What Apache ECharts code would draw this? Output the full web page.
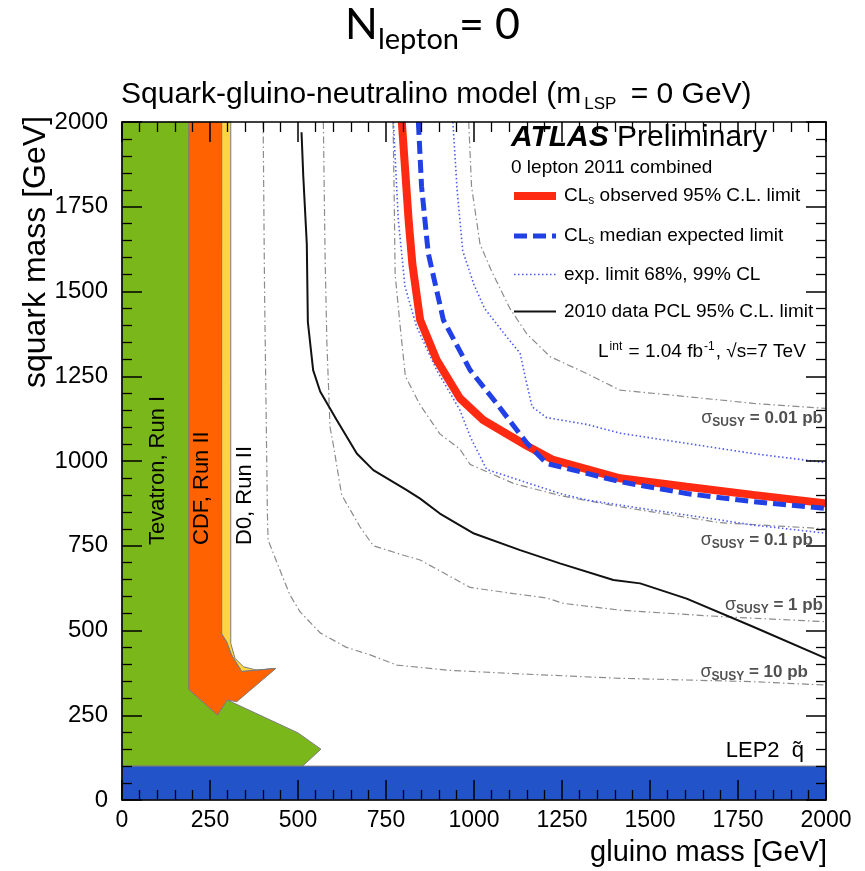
<!DOCTYPE html>
<html>
<head>
<meta charset="utf-8">
<script src="https://cdn.jsdelivr.net/npm/echarts@6/dist/echarts.min.js"></script>
<style>
  html, body { margin: 0; padding: 0; background: #fff; }
  #chart { width: 865px; height: 871px; }
</style>
</head>
<body>
<div id="chart"></div>
<script>
// tick labels (GeV), same on both axes
var massTicks = [0, 250, 500, 750, 1000, 1250, 1500, 1750, 2000];

// excluded regions [gluino, squark]
var lep2Band = [[0, 0], [2000, 0], [2000, 100], [0, 100]];
var tevatronRun1 = [[0, 100], [0, 2000], [190, 2000], [190, 326], [271, 251], [299, 295], [500, 198], [565, 150], [513, 100]];
var cdfRun2 = [[190, 2000], [283, 2000], [283, 490], [297, 467], [311, 428], [340, 379], [437, 388], [326, 290], [299, 295], [271, 251], [190, 326]];
var d0Run2 = [[283, 2000], [309, 2000], [309, 462], [321, 418], [345, 393], [383, 383], [437, 388], [340, 379], [311, 428], [297, 467], [283, 490]];

// limits
var observed = [[795, 2000], [805, 1850], [815, 1700], [825, 1580], [847, 1416], [894, 1298], [960, 1185], [1026, 1121], [1150, 1045], [1225, 1003], [1415, 949], [1604, 924], [1793, 900], [2000, 875]];
var expected = [[842, 2000], [851, 1810], [870, 1613], [913, 1416], [989, 1268], [1064, 1170], [1150, 1053], [1206, 993], [1415, 939], [1604, 904], [1793, 880], [2000, 860]];
var expBandLow = [[771, 2000], [785, 1711], [804, 1514], [837, 1396], [894, 1268], [960, 1150], [990, 1070], [1036, 975], [1112, 949], [1244, 904], [1320, 885], [1509, 855], [1699, 826], [1793, 811], [2000, 787]];
var expBandHigh = [[940, 2000], [952, 1800], [968, 1620], [1000, 1520], [1030, 1450], [1093, 1366], [1131, 1318], [1145, 1250], [1165, 1160], [1206, 1128], [1320, 1108], [1415, 1082], [1604, 1052], [1793, 1022], [2000, 995]];
var pcl2010 = [[510, 1970], [515, 1840], [525, 1640], [528, 1410], [543, 1268], [563, 1205], [610, 1121], [667, 1022], [714, 973], [809, 914], [847, 889], [903, 845], [1000, 786], [1131, 737], [1244, 698], [1396, 649], [1472, 639], [1604, 594], [1793, 511], [2000, 418]];

// cross-section contours
var xsec001 = [[985, 2000], [993, 1810], [1017, 1640], [1050, 1560], [1102, 1450], [1150, 1375], [1216, 1308], [1320, 1258], [1415, 1209], [1604, 1190], [1793, 1170], [2000, 1155]];
var xsec01 = [[770, 2000], [773, 1800], [776, 1550], [790, 1400], [805, 1250], [847, 1165], [903, 1080], [960, 1035], [989, 990], [1112, 934], [1244, 898], [1415, 865], [1699, 818], [2000, 800]];
var xsec1 = [[572, 2000], [577, 1600], [582, 1350], [591, 1100], [600, 1050], [624, 900], [676, 806], [714, 750], [800, 722], [847, 708], [989, 627], [1112, 609], [1206, 596], [1254, 580], [1415, 560], [1699, 541], [2000, 526]];
var xsec10 = [[401, 2000], [405, 1500], [410, 1100], [413, 850], [415, 767], [443, 693], [477, 605], [506, 555], [563, 493], [636, 451], [705, 428], [781, 398], [923, 383], [1131, 372], [1415, 359], [1793, 349], [2000, 339]];

var FONT = '"Liberation Sans", Arial, sans-serif';
var TITLE_FONT = 'Lato, "Open Sans", sans-serif';

var legendLabels = {
  observed: '{t|CL}{s|s}{t| observed 95% C.L. limit}',
  expected: '{t|CL}{s|s}{t| median expected limit}',
  band: '{t|exp. limit 68%, 99% CL}',
  pcl: '{t|2010 data PCL 95% C.L. limit}'
};

var sigmaRich = {
  g: { fontFamily: FONT, fontSize: 18, lineHeight: 22, fill: '#505050' },
  u: { fontFamily: FONT, fontSize: 12, fontWeight: 'bold', lineHeight: 12, padding: [10, 0, 0, 0], fill: '#505050' },
  b: { fontFamily: FONT, fontSize: 17, fontWeight: 'bold', lineHeight: 22, fill: '#505050' }
};

function region(name, pts, fill) {
  return {
    type: 'custom',
    name: name,
    z: 1,
    silent: true,
    data: pts,
    encode: { x: 0, y: 1 },
    renderItem: function (params, api) {
      if (params.dataIndex !== 0) return null;
      return {
        type: 'polygon',
        shape: { points: pts.map(function (p) { return api.coord(p); }) },
        style: { fill: fill, stroke: '#7c7c7c', lineWidth: 1 }
      };
    }
  };
}

function contour(pts) {
  return {
    type: 'line', name: 'xsec', data: pts, symbol: 'none', z: 2,
    lineStyle: { color: '#8c8c8c', width: 1.2, type: [7, 3, 1.5, 3] }
  };
}

function sigmaLabel(x, y, value) {
  return {
    type: 'text', x: x, y: y, z: 20,
    style: {
      text: '{g|\u03C3}{u|SUSY}{b| = ' + value + ' pb}', align: 'right', verticalAlign: 'middle',
      rich: sigmaRich
    }
  };
}

function axisBase(pos, labels) {
  return {
    type: 'value',
    position: pos,
    min: massTicks[0],
    max: massTicks[massTicks.length - 1],
    interval: massTicks[1] - massTicks[0],
    z: 10,
    axisLine: { show: true, onZero: false, lineStyle: { color: '#000', width: 1.6 } },
    axisTick: { show: true, inside: true, length: 20, lineStyle: { color: '#000', width: 1.5 } },
    minorTick: { show: true, splitNumber: 5, length: 10, lineStyle: { color: '#000', width: 1.3 } },
    splitLine: { show: false },
    axisLabel: labels ? labels : { show: false }
  };
}

var chart = echarts.init(document.getElementById('chart'));

var option = {
  animation: false,
  backgroundColor: '#fff',
  title: [
    {
      text: '{n|N}{s|lepton}{n|= 0}',
      left: 'center', top: 0, padding: 0,
      textStyle: {
        rich: {
          n: { fontFamily: TITLE_FONT, fontWeight: 'normal', fontSize: 43, lineHeight: 50, color: '#000' },
          s: { fontFamily: TITLE_FONT, fontWeight: 'normal', fontSize: 29, lineHeight: 29, padding: [30, 0, 0, 0], color: '#000' }
        }
      }
    },
    {
      text: '{m|Squark-gluino-neutralino model (m}{s|LSP}{m| = 0 GeV)}',
      left: 121, top: 78, padding: 0,
      textStyle: {
        rich: {
          m: { fontFamily: FONT, fontWeight: 'normal', fontSize: 30, lineHeight: 34, color: '#000' },
          s: { fontFamily: FONT, fontWeight: 'normal', fontSize: 17, lineHeight: 17, padding: [18, 6, 0, 3], color: '#000' }
        }
      }
    }
  ],
  grid: { left: 122, right: 39, top: 122, bottom: 71, containLabel: false },
  xAxis: [
    axisBase('bottom', { show: true, margin: 9, color: '#000', fontFamily: FONT, fontSize: 23, formatter: function (v) { return String(v); } }),
    axisBase('top', null)
  ],
  yAxis: [
    axisBase('left', { show: true, margin: 14, color: '#000', fontFamily: FONT, fontSize: 24, formatter: function (v) { return String(v); } }),
    axisBase('right', null)
  ],
  legend: {
    orient: 'vertical',
    left: 510, top: 185, padding: 0,
    itemWidth: 42, itemHeight: 14, itemGap: 18,
    data: ['observed', 'expected', 'band', 'pcl'],
    formatter: function (name) { return legendLabels[name]; },
    selectedMode: false,
    itemStyle: { opacity: 0 },
    lineStyle: { width: 'inherit', type: 'inherit' },
    textStyle: {
      padding: [0, 0, 0, 3],
      rich: {
        t: { fontFamily: FONT, fontSize: 19, lineHeight: 24, color: '#000' },
        s: { fontFamily: FONT, fontSize: 12, lineHeight: 12, padding: [10, 0, 0, 0], color: '#000' }
      }
    }
  },
  graphic: [
    {
      type: 'text', x: 36, y: 252, rotation: Math.PI / 2,
      style: { text: 'squark mass [GeV]', font: '32px ' + FONT, fill: '#000', align: 'center', verticalAlign: 'middle' }
    },
    {
      type: 'text', x: 827, y: 853,
      style: { text: 'gluino mass [GeV]', font: '29px ' + FONT, fill: '#000', align: 'right', verticalAlign: 'middle' }
    },
    {
      type: 'text', x: 158, y: 545, rotation: Math.PI / 2, z: 20,
      style: { text: 'Tevatron, Run I', font: '22px ' + FONT, fill: '#000', align: 'left', verticalAlign: 'middle' }
    },
    {
      type: 'text', x: 202, y: 545, rotation: Math.PI / 2, z: 20,
      style: { text: 'CDF, Run II', font: '22px ' + FONT, fill: '#000', align: 'left', verticalAlign: 'middle' }
    },
    {
      type: 'text', x: 245, y: 545, rotation: Math.PI / 2, z: 20,
      style: { text: 'D0, Run II', font: '22px ' + FONT, fill: '#000', align: 'left', verticalAlign: 'middle' }
    },
    {
      type: 'text', x: 511, y: 138, z: 20,
      style: {
        text: '{a|ATLAS}{b| Preliminary}', align: 'left', verticalAlign: 'middle',
        rich: {
          a: { fontFamily: FONT, fontSize: 30, fontWeight: 'bold', fontStyle: 'italic', fill: '#000' },
          b: { fontFamily: FONT, fontSize: 30, fill: '#000' }
        }
      }
    },
    {
      type: 'text', x: 511, y: 168, z: 20,
      style: { text: '0 lepton 2011 combined', font: '19px ' + FONT, fill: '#000', align: 'left', verticalAlign: 'middle' }
    },
    {
      type: 'text', x: 598, y: 352, z: 20,
      style: {
        text: '{t|L}{u|int}{t| = 1.04 fb}{u|-1}{t|, \u221As=7 TeV}', align: 'left', verticalAlign: 'middle',
        rich: {
          t: { fontFamily: FONT, fontSize: 19, lineHeight: 24, fill: '#000' },
          u: { fontFamily: FONT, fontSize: 12, lineHeight: 12, padding: [0, 1, 10, 1], fill: '#000' }
        }
      }
    },
    sigmaLabel(823, 418, '0.01'),
    sigmaLabel(813, 540, '0.1'),
    sigmaLabel(823, 605, '1'),
    sigmaLabel(808, 672, '10'),
    {
      type: 'text', x: 804, y: 751, z: 20,
      style: { text: 'LEP2  q\u0303', font: '22px ' + FONT, fill: '#000', align: 'right', verticalAlign: 'middle' }
    }
  ],
  series: [
    region('Tevatron, Run I', tevatronRun1, '#79b71b'),
    region('D0, Run II', d0Run2, '#fdd542'),
    region('CDF, Run II', cdfRun2, '#ff6200'),
    region('LEP2', lep2Band, '#2253c8'),
    contour(xsec001),
    contour(xsec01),
    contour(xsec1),
    contour(xsec10),
    {
      type: 'line', name: 'band', data: expBandLow, symbol: 'none', z: 3,
      lineStyle: { color: '#4a5cf2', width: 1.6, type: [1.5, 2.5] }
    },
    {
      type: 'line', name: 'band', data: expBandHigh, symbol: 'none', z: 3,
      lineStyle: { color: '#4a5cf2', width: 1.6, type: [1.5, 2.5] }
    },
    {
      type: 'line', name: 'pcl', data: pcl2010, symbol: 'none', z: 3,
      lineStyle: { color: '#111', width: 2 }
    },
    {
      type: 'line', name: 'observed', data: observed, symbol: 'none', z: 4,
      lineStyle: { color: '#ff2a12', width: 8 }
    },
    {
      type: 'line', name: 'expected', data: expected, symbol: 'none', z: 5,
      lineStyle: { color: '#2140e6', width: 5, type: [13, 6] }
    }
  ]
};

chart.setOption(option);
</script>
</body>
</html>
